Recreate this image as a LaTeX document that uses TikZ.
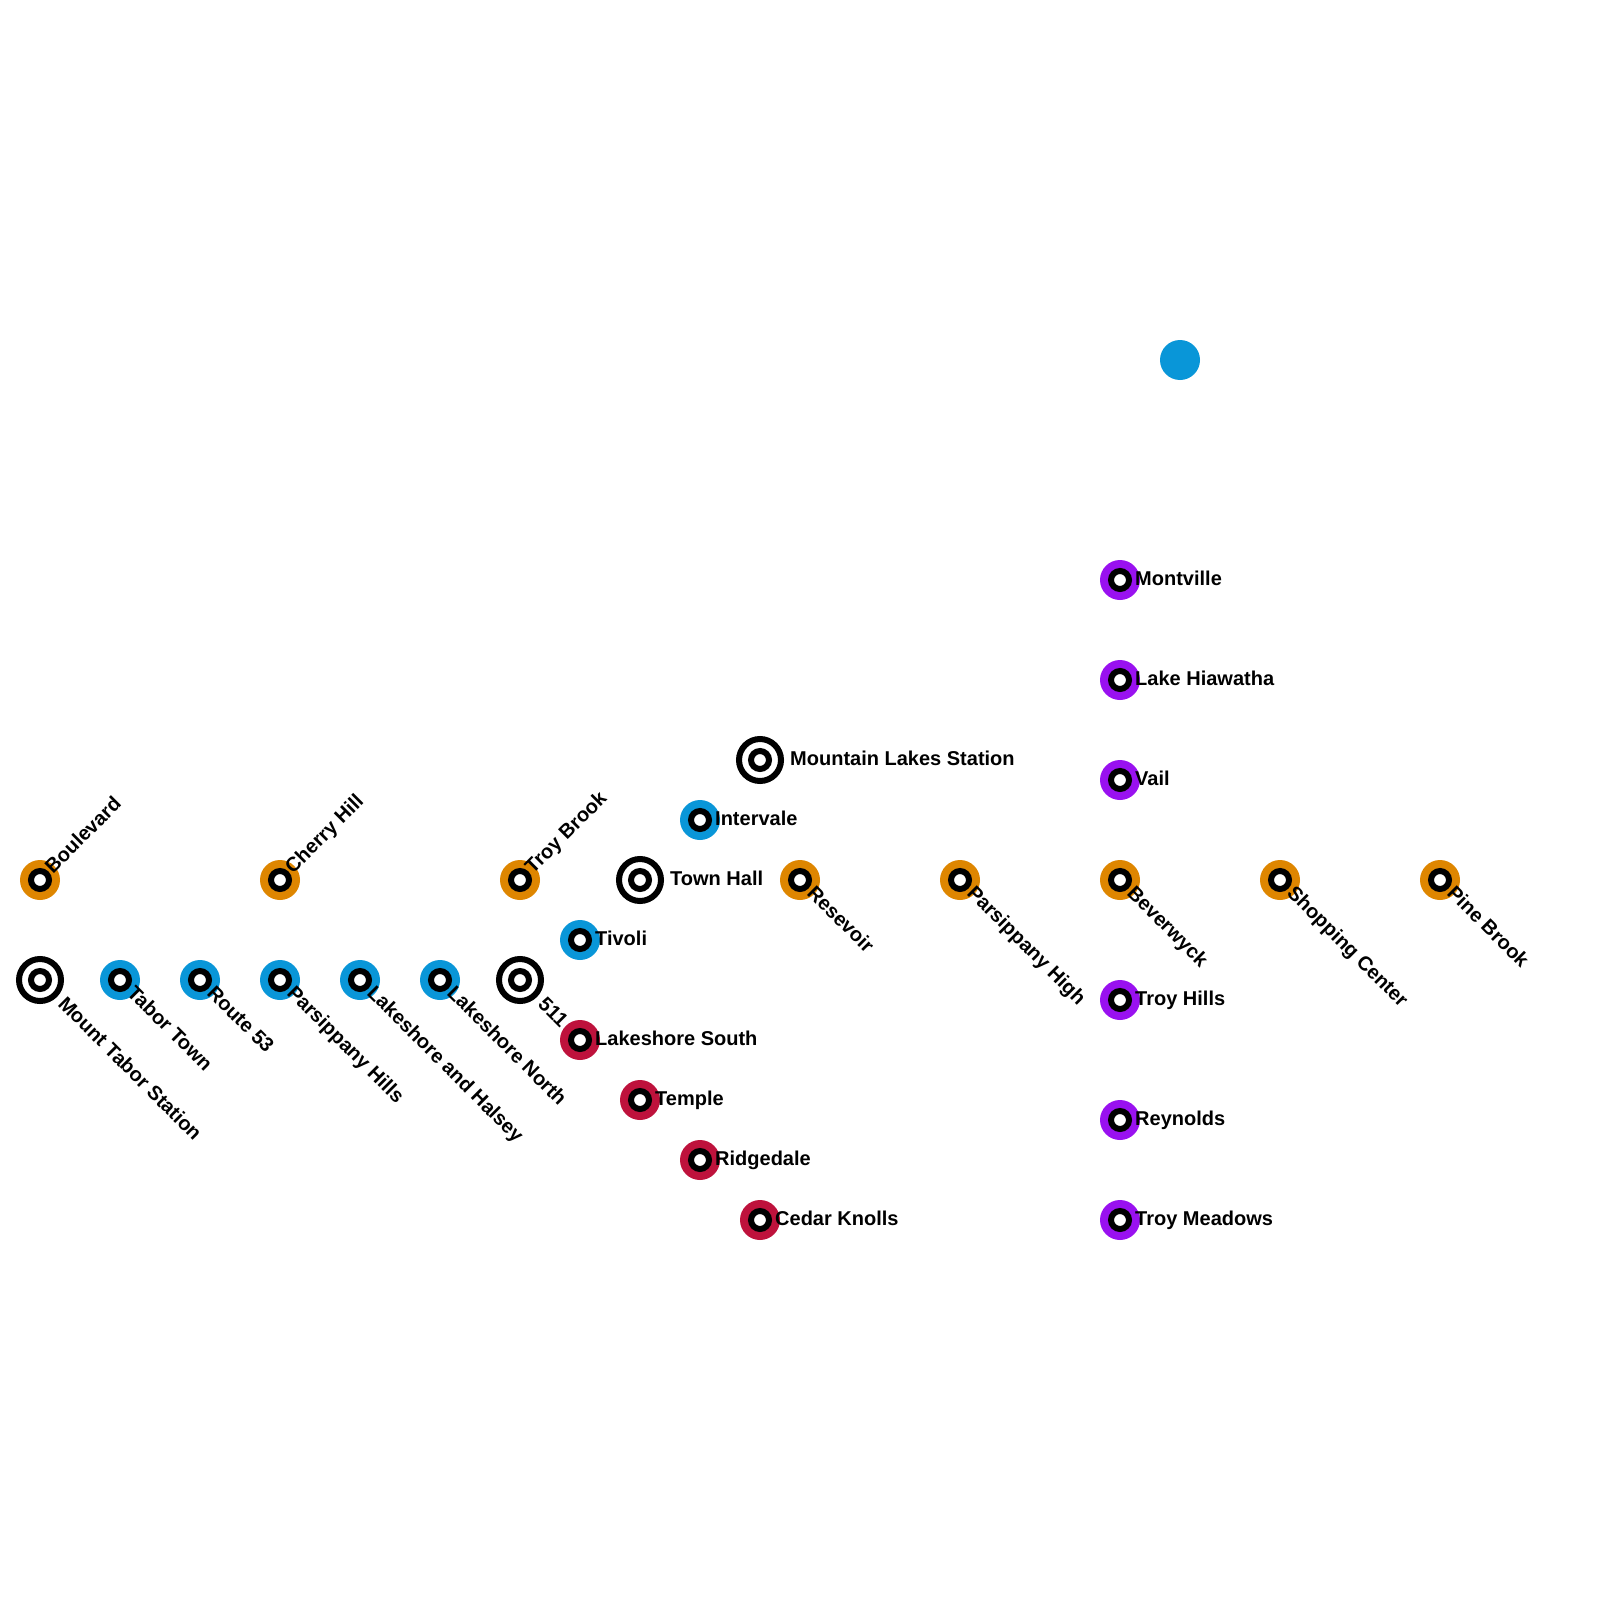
\documentclass[tikz,border=0pt]{standalone}
\usepackage{fontspec}
\setmainfont{Liberation Sans}
\definecolor{lineorange}{RGB}{222,134,0}
\definecolor{lineblue}{RGB}{9,150,216}
\definecolor{linered}{RGB}{190,18,60}
\definecolor{linepurple}{RGB}{153,17,240}
\tikzset{
  stopdisc/.style={circle,minimum size=40pt,inner sep=0pt,fill=#1},
  stopring/.style={circle,draw=black,fill=white,line width=6pt,minimum size=18pt,inner sep=0pt,outer sep=0pt},
  hubring/.style={circle,draw=black,fill=white,line width=6pt,minimum size=42pt,inner sep=0pt,outer sep=0pt},
  stoplabel/.style={anchor=base west,inner sep=0pt,font=\fontsize{20}{20}\selectfont\bfseries},
}
\begin{document}
\begin{tikzpicture}[x=1pt,y=-1pt]
    \useasboundingbox (0,0) rectangle (1600,1600);
    % Orange stops, labels going up
    \foreach \name/\px/\py/\txt in {boulevard/40/880/Boulevard,cherryhill/280/880/Cherry Hill,troybrook/520/880/Troy Brook} {
        \node[stopdisc=lineorange] (\name) at (\px,\py) {};
        \node[stopring] at (\name) {};
        \node[stoplabel,rotate=45] (\name-text) at (\px+13,\py-5.5) {\txt};
    }
    % Orange stops, labels going down
    \foreach \name/\px/\py/\txt in {resevoir/800/880/Resevoir,parsippanyhigh/960/880/Parsippany High,beverwyck/1120/880/Beverwyck,shoppingcenter/1280/880/Shopping Center,pinebrook/1440/880/Pine Brook} {
        \node[stopdisc=lineorange] (\name) at (\px,\py) {};
        \node[stopring] at (\name) {};
        \node[stoplabel,rotate=-45] (\name-text) at (\px+6,\py+14) {\txt};
    }
    % Blue stops
    \foreach \name/\px/\py/\txt in {tabortown/120/980/Tabor Town,routefiftythree/200/980/Route 53,parsippanyhills/280/980/Parsippany Hills,lakeshorehalsey/360/980/Lakeshore and Halsey,lakeshorenorth/440/980/Lakeshore North} {
        \node[stopdisc=lineblue] (\name) at (\px,\py) {};
        \node[stopring] at (\name) {};
        \node[stoplabel,rotate=-45] (\name-text) at (\px+6,\py+14) {\txt};
    }
    \foreach \name/\px/\py/\txt in {tivoli/580/940/Tivoli,intervale/700/820/Intervale} {
        \node[stopdisc=lineblue] (\name) at (\px,\py) {};
        \node[stopring] at (\name) {};
        \node[stoplabel] (\name-text) at (\px+15,\py+5) {\txt};
    }
    \node[stopdisc=lineblue] (loosestop) at (1180,360) {};
    % Red stops
    \foreach \name/\px/\py/\txt in {lakeshoresouth/580/1040/Lakeshore South,temple/640/1100/Temple,ridgedale/700/1160/Ridgedale,cedarknolls/760/1220/Cedar Knolls} {
        \node[stopdisc=linered] (\name) at (\px,\py) {};
        \node[stopring] at (\name) {};
        \node[stoplabel] (\name-text) at (\px+15,\py+5) {\txt};
    }
    % Purple stops
    \foreach \name/\py/\txt in {montville/580/Montville,lakehiawatha/680/Lake Hiawatha,vail/780/Vail,troyhills/1000/Troy Hills,reynolds/1120/Reynolds,troymeadows/1220/Troy Meadows} {
        \node[stopdisc=linepurple] (\name) at (1120,\py) {};
        \node[stopring] at (\name) {};
        \node[stoplabel] (\name-text) at (1135,\py+5) {\txt};
    }
    % Interchanges
    \foreach \name/\px/\py/\txt in {mounttabor/40/980/Mount Tabor Station,fiveeleven/520/980/511} {
        \node[hubring] (\name) at (\px,\py) {};
        \node[stopring] at (\name) {};
        \node[stoplabel,rotate=-45] (\name-text) at (\px+17,\py+25) {\txt};
    }
    \foreach \name/\px/\py/\txt in {townhall/640/880/Town Hall,mountainlakes/760/760/Mountain Lakes Station} {
        \node[hubring] (\name) at (\px,\py) {};
        \node[stopring] at (\name) {};
        \node[stoplabel] (\name-text) at (\px+30,\py+5) {\txt};
    }
\end{tikzpicture}
\end{document}
